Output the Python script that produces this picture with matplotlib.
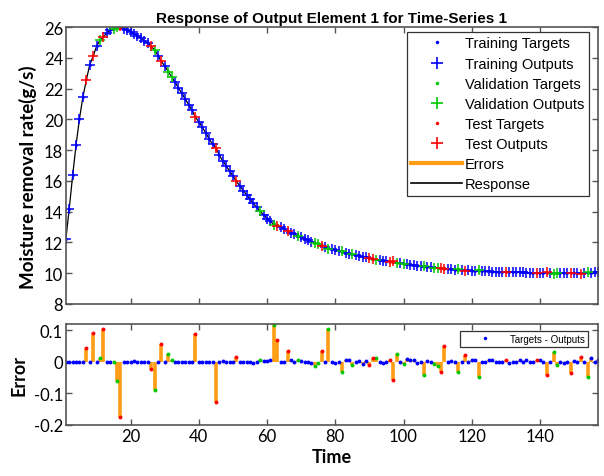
import matplotlib
matplotlib.use("Agg")
import matplotlib.pyplot as plt
import numpy as np
from matplotlib.lines import Line2D

# time steps 1..157
time = np.arange(1, 158)

# target values
targets = [
    12.2, 14.2, 16.35, 18.35, 20.05, 21.45, 22.6, 23.55, 24.2, 24.75,
    25.15, 25.45, 25.65, 25.8, 25.9, 25.95, 25.93, 25.88, 25.8, 25.7,
    25.58, 25.45, 25.3, 25.13, 24.95, 24.72, 24.45, 24.15, 23.82, 23.48,
    23.13, 22.78, 22.42, 22.06, 21.7, 21.33, 20.96, 20.59, 20.22, 19.85,
    19.48, 19.11, 18.74, 18.38, 18.02, 17.66, 17.31, 16.97, 16.63, 16.3,
    15.98, 15.67, 15.37, 15.08, 14.8, 14.53, 14.27, 14.02, 13.78, 13.55,
    13.38, 13.25, 13.12, 12.99, 12.87, 12.75, 12.64, 12.53, 12.43, 12.33,
    12.23, 12.14, 12.05, 11.96, 11.88, 11.8, 11.72, 11.65, 11.58, 11.51,
    11.45, 11.39, 11.33, 11.27, 11.22, 11.17, 11.12, 11.07, 11.02, 10.97,
    10.93, 10.89, 10.85, 10.81, 10.77, 10.73, 10.7, 10.66, 10.63, 10.6,
    10.57, 10.54, 10.51, 10.48, 10.45, 10.42, 10.4, 10.37, 10.35, 10.33,
    10.31, 10.29, 10.27, 10.25, 10.23, 10.21, 10.2, 10.18, 10.17, 10.16,
    10.15, 10.14, 10.13, 10.12, 10.11, 10.1, 10.09, 10.08, 10.08, 10.07,
    10.06, 10.06, 10.05, 10.05, 10.04, 10.04, 10.03, 10.03, 10.02, 10.02,
    10.02, 10.01, 10.01, 10.0, 10.0, 10.0, 9.99, 9.99, 9.99, 9.98,
    9.98, 9.98, 9.99, 10.0, 10.02, 10.05, 10.09,
]

# which time steps belong to validation / test sets (rest = training)
val_times = [11, 15, 16, 27, 31, 32, 58, 62, 69, 74, 75, 78, 82, 85, 92, 98,
             100, 106, 109, 110, 116, 122, 144, 145, 154]
test_times = [7, 9, 12, 17, 26, 29, 39, 45, 51, 63, 66, 76, 90, 91, 96, 97,
              111, 112, 118, 130, 139, 142, 149, 152]

# non-zero errors (targets - outputs)
err_times = [7, 9, 11, 12, 16, 17, 21, 26, 27, 29, 31, 32, 39, 45, 47, 51,
             56, 58, 59, 60, 61, 62, 63, 66, 67, 69, 70, 73, 74, 75, 76, 78,
             80, 82, 83, 84, 85, 87, 88, 89, 90, 91, 92, 94, 96, 97, 98, 100,
             101, 102, 103, 104, 106, 107, 109, 110, 111, 112, 114, 116, 118,
             120, 121, 122, 125, 126, 130, 131, 134, 136, 139, 140, 142, 144,
             145, 147, 149, 150, 152, 154, 155, 157]
err_values = [0.045, 0.091, 0.012, 0.105, -0.062, -0.174, 0.002, -0.024, -0.09,
              0.055, 0.025, 0.004, 0.089, -0.126, 0.002, 0.015,
              -0.003, 0.007, 0.003, 0.003, 0.004, 0.117, 0.068, 0.034, 0.004,
              0.006, 0.002, -0.003, -0.013, -0.005, 0.033, 0.103,
              -0.004, -0.031, 0.005, 0.004, -0.01, 0.003, -0.006, 0.002,
              -0.011, 0.012, 0.012, -0.004, 0.004, -0.057, 0.025, -0.008,
              0.01, 0.007, 0.005, -0.004, -0.041, 0.003, -0.008, -0.015,
              -0.031, 0.049, 0.002, -0.031, 0.022,
              0.006, 0.006, -0.049, 0.004, 0.004, 0.005, -0.004, 0.005, 0.004,
              0.005, 0.006, -0.041, 0.031,
              -0.01, -0.004, -0.035, 0.003, 0.014, -0.047, 0.011, 0.004]

targets = np.array(targets)
errors = np.zeros(len(time))
for t, e in zip(err_times, err_values):
    errors[t - 1] = e
outputs = targets - errors

is_val = np.isin(time, val_times)
is_test = np.isin(time, test_times)
is_train = ~(is_val | is_test)

c_blue = '#0000FF'
c_green = '#00C800'
c_red = '#FF0000'
c_orange = '#FF9E14'
spine_col = '#555555'
tick_font = 'Lato'

fig = plt.figure(figsize=(6.04, 4.77), dpi=100)
ax1 = fig.add_axes([0.109, 0.361, 0.881, 0.580])
ax2 = fig.add_axes([0.109, 0.107, 0.881, 0.212])

# ---- top: response
ax1.vlines(time, outputs, targets, color=c_orange, linewidth=2)
ax1.plot(time, outputs, color='k', linewidth=0.9)
sets = [(is_train, c_blue), (is_val, c_green), (is_test, c_red)]
for m, c in sets:
    ax1.plot(time[m], targets[m], linestyle='none', marker='o', markersize=2,
             markeredgewidth=0, color=c)
    ax1.plot(time[m], outputs[m], linestyle='none', marker='+', markersize=7,
             markeredgewidth=1.1, color=c)

ax1.set_xlim(1, 157)
ax1.set_ylim(8, 26)
ax1.set_yticks(np.arange(8, 27, 2))
ax1.set_xticks(np.arange(20, 157, 20))
ax1.set_xticklabels([])
ax1.set_title('Response of Output Element 1 for Time-Series 1',
              fontsize=11, fontweight='bold', family='Liberation Sans', pad=4)
ax1.set_ylabel('Moisture removal rate(g/s)', fontsize=13.5, fontweight='bold',
               family=tick_font)
ax1.yaxis.set_label_coords(-0.055, 0.46)

handles = [
    Line2D([], [], linestyle='none', marker='o', markersize=2.5, markeredgewidth=0, color=c_blue),
    Line2D([], [], linestyle='none', marker='+', markersize=8, markeredgewidth=1.2, color=c_blue),
    Line2D([], [], linestyle='none', marker='o', markersize=2.5, markeredgewidth=0, color=c_green),
    Line2D([], [], linestyle='none', marker='+', markersize=8, markeredgewidth=1.2, color=c_green),
    Line2D([], [], linestyle='none', marker='o', markersize=2.5, markeredgewidth=0, color=c_red),
    Line2D([], [], linestyle='none', marker='+', markersize=8, markeredgewidth=1.2, color=c_red),
    Line2D([], [], color=c_orange, linewidth=3),
    Line2D([], [], color='k', linewidth=1.2),
]
labels = ['Training Targets', 'Training Outputs', 'Validation Targets',
          'Validation Outputs', 'Test Targets', 'Test Outputs', 'Errors', 'Response']
leg = ax1.legend(handles, labels, loc='upper right', bbox_to_anchor=(0.983, 0.982),
                 prop={'family': 'Liberation Sans', 'size': 10.5},
                 handlelength=3.5, handletextpad=0.2, fancybox=False,
                 edgecolor='#333333', framealpha=1, borderaxespad=0,
                 labelspacing=0.42, borderpad=0.3)
leg.get_frame().set_linewidth(0.9)

# ---- bottom: errors
ax2.vlines(time, 0, errors, color=c_orange, linewidth=2.6)
for m, c in sets:
    ax2.plot(time[m], errors[m], linestyle='none', marker='o', markersize=2.8,
             markeredgewidth=0, color=c)
ax2.set_xlim(1, 157)
ax2.set_ylim(-0.2, 0.12)
ax2.set_yticks([-0.2, -0.1, 0, 0.1])
ax2.set_yticklabels(['-0.2', '-0.1', '0', '0.1'])
ax2.set_xticks(np.arange(20, 157, 20))
ax2.set_xlabel('Time', fontsize=13, fontweight='bold', family=tick_font, labelpad=3)
ax2.set_ylabel('Error', fontsize=13, fontweight='bold', family=tick_font)
ax2.yaxis.set_label_coords(-0.072, 0.5)
leg2 = ax2.legend([Line2D([], [], linestyle='none', marker='o', markersize=2.5,
                          markeredgewidth=0, color=c_blue)],
                  ['Targets - Outputs'], loc='upper right',
                  bbox_to_anchor=(0.981, 0.93),
                  prop={'family': 'Liberation Sans', 'size': 7},
                  handlelength=4.5, handletextpad=0.3, fancybox=False,
                  edgecolor='#333333', framealpha=1, borderaxespad=0,
                  borderpad=0.3)
leg2.get_frame().set_linewidth(0.9)

for ax in (ax1, ax2):
    for s in ax.spines.values():
        s.set_color(spine_col)
        s.set_linewidth(1.2)
    ax.tick_params(direction='in', length=4, width=1, color=spine_col,
                   top=True, right=True, labelsize=12, pad=2)
    for lab in ax.get_xticklabels() + ax.get_yticklabels():
        lab.set_family(tick_font)

fig.savefig('out.png', dpi=100)
